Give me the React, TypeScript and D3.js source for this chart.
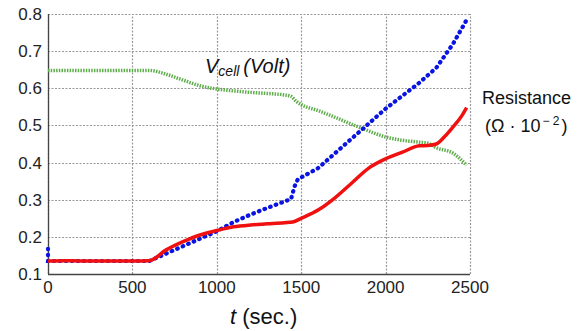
import { useEffect, useRef } from "react";
import * as d3 from "d3";

// time (sec.) and values
const redT = [0, 100, 200, 300, 400, 500, 600, 700, 800, 900, 1000, 1100, 1200, 1300, 1400, 1450, 1500, 1600, 1700, 1800, 1900, 2000, 2100, 2200, 2250, 2300, 2350, 2400, 2450, 2480];
const redV = [0.135, 0.136, 0.135, 0.135, 0.135, 0.135, 0.136, 0.165, 0.187, 0.205, 0.217, 0.227, 0.232, 0.235, 0.238, 0.24, 0.25, 0.272, 0.305, 0.345, 0.385, 0.41, 0.428, 0.445, 0.446, 0.45, 0.47, 0.496, 0.525, 0.548];

const blueT = [0, 0, 300, 600, 700, 800, 900, 1000, 1100, 1200, 1300, 1400, 1440, 1460, 1480, 1600, 1700, 1800, 1900, 2000, 2100, 2200, 2300, 2400, 2490];
const blueV = [0.168, 0.135, 0.135, 0.135, 0.155, 0.175, 0.195, 0.215, 0.24, 0.26, 0.278, 0.295, 0.302, 0.335, 0.355, 0.385, 0.425, 0.465, 0.505, 0.545, 0.58, 0.615, 0.655, 0.72, 0.792];

const greenT = [0, 300, 600, 700, 800, 900, 1000, 1100, 1200, 1300, 1400, 1440, 1470, 1500, 1600, 1700, 1800, 1900, 2000, 2100, 2200, 2250, 2300, 2400, 2480];
const greenV = [0.648, 0.648, 0.648, 0.638, 0.622, 0.607, 0.598, 0.593, 0.589, 0.586, 0.582, 0.578, 0.565, 0.556, 0.54, 0.522, 0.503, 0.485, 0.469, 0.46, 0.455, 0.452, 0.44, 0.425, 0.393];

const xTicks = [0, 500, 1000, 1500, 2000, 2500];
const yTicks = [0.1, 0.2, 0.3, 0.4, 0.5, 0.6, 0.7, 0.8];

export default function App() {
  const svgRef = useRef<SVGSVGElement>(null);

  useEffect(() => {
    if (!svgRef.current) return;
    const svg = d3.select(svgRef.current);
    svg.selectAll("*").remove();

    const x = d3.scaleLinear().domain([0, 2500]).range([48, 470]);
    const y = d3.scaleLinear().domain([0.1, 0.8]).range([274, 14]);
    const px = (v: number) => Math.round(v) + 0.5; // crisp 1px lines
    const font = "'Liberation Sans', Arial, sans-serif";

    // dotted grid
    xTicks.forEach(t => {
      svg.append("line")
        .attr("x1", px(x(t))).attr("x2", px(x(t))).attr("y1", y(0.1)).attr("y2", y(0.8))
        .style("stroke", "#999").style("stroke-width", "1.2px").style("stroke-dasharray", "2,1.5");
    });
    yTicks.forEach(v => {
      svg.append("line")
        .attr("x1", x(0)).attr("x2", x(2500)).attr("y1", px(y(v))).attr("y2", px(y(v)))
        .style("stroke", "#999").style("stroke-width", "1.2px").style("stroke-dasharray", "2,1.5");
    });

    // frame (left and bottom solid)
    svg.append("line").attr("x1", px(x(0))).attr("x2", px(x(0))).attr("y1", y(0.1)).attr("y2", y(0.8))
      .style("stroke", "#444").style("stroke-width", "1.3px");
    svg.append("line").attr("x1", x(0)).attr("x2", x(2500)).attr("y1", px(y(0.1))).attr("y2", px(y(0.1)))
      .style("stroke", "#444").style("stroke-width", "1.3px");

    // tick labels
    yTicks.forEach(v => {
      svg.append("text")
        .attr("x", 42).attr("y", y(v) + 6)
        .attr("text-anchor", "end")
        .style("font-family", font).style("font-size", "17px").style("fill", "#222")
        .text(v.toFixed(1));
    });
    xTicks.forEach(t => {
      svg.append("text")
        .attr("x", x(t)).attr("y", 293)
        .attr("text-anchor", "middle")
        .style("font-family", font).style("font-size", "17px").style("fill", "#222")
        .text(String(t));
    });

    const line = (ts: number[], vs: number[], curve: d3.CurveFactory) =>
      d3.line<number>().x((_, i) => x(ts[i])).y(d => y(d)).curve(curve)(vs) as string;

    // green V_cell
    svg.append("path").attr("d", line(greenT, greenV, d3.curveMonotoneX))
      .attr("fill", "none").attr("stroke", "#5fae4c").attr("stroke-width", 3.5)
      .attr("stroke-dasharray", "1.5,1.2");

    // blue dotted
    svg.append("path").attr("d", line(blueT, blueV, d3.curveLinear))
      .attr("fill", "none").attr("stroke", "#0a14e0").attr("stroke-width", 4.2)
      .attr("stroke-linecap", "round").attr("stroke-dasharray", "0.6,5.4");

    // red resistance
    svg.append("path").attr("d", line(redT, redV, d3.curveMonotoneX))
      .attr("fill", "none").attr("stroke", "#f01010").attr("stroke-width", 3.5)
      .attr("stroke-linejoin", "round");

    // V_cell label
    const vl = svg.append("text").attr("x", 205).attr("y", 73)
      .style("font-family", font).style("font-size", "20px").style("font-style", "italic").style("fill", "#111");
    vl.append("tspan").text("V");
    vl.append("tspan").attr("dy", 3).style("font-size", "14px").text("cell");
    vl.append("tspan").attr("dy", -3).attr("dx", 4).text("(Volt)");

    // resistance label
    svg.append("text").attr("x", 482).attr("y", 104)
      .style("font-family", font).style("font-size", "18px").style("fill", "#111")
      .text("Resistance");
    const rl = svg.append("text").attr("x", 485).attr("y", 132)
      .style("font-family", font).style("font-size", "18px").style("fill", "#111");
    rl.append("tspan").text("(Ω · 10");
    rl.append("tspan").attr("dy", -7).attr("dx", 2).style("font-size", "12px").text("− 2");
    rl.append("tspan").attr("dy", 7).attr("dx", 2).text(")");

    // x axis title
    const xl = svg.append("text").attr("x", 230).attr("y", 324)
      .style("font-family", font).style("font-size", "22px").style("fill", "#111");
    xl.append("tspan").style("font-style", "italic").text("t");
    xl.append("tspan").text(" (sec.)");
  }, []);

  return (
    <svg ref={svgRef} width={586} height={331}
      style={{ position: "fixed", left: 0, top: 0, background: "#fff" }} />
  );
}
